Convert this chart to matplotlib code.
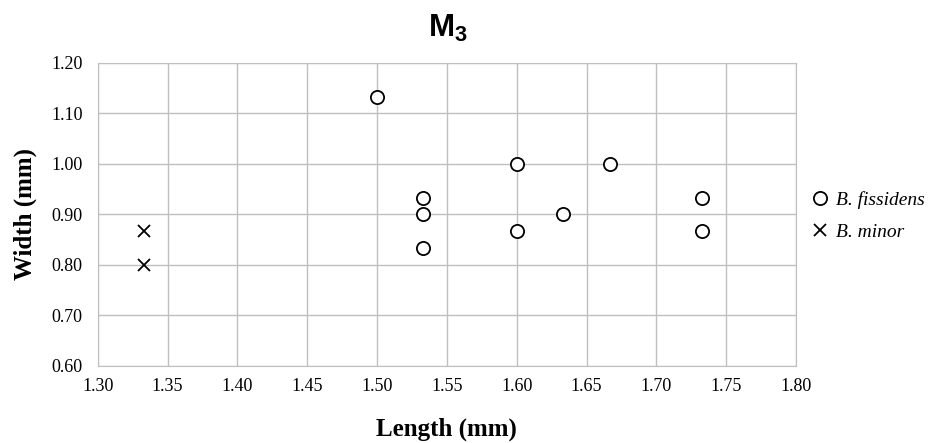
import matplotlib
matplotlib.use("Agg")
import matplotlib.pyplot as plt

# B. fissidens
fiss_len = [1.500, 1.533, 1.533, 1.533, 1.600, 1.600, 1.633, 1.667, 1.733, 1.733]
fiss_wid = [1.133, 0.933, 0.900, 0.833, 1.000, 0.867, 0.900, 1.000, 0.933, 0.867]
# B. minor
minor_len = [1.333, 1.333]
minor_wid = [0.867, 0.800]

x_ticks = [1.30, 1.35, 1.40, 1.45, 1.50, 1.55, 1.60, 1.65, 1.70, 1.75, 1.80]
y_ticks = [0.60, 0.70, 0.80, 0.90, 1.00, 1.10, 1.20]

plt.rcParams['font.family'] = 'Liberation Serif'

fig = plt.figure(figsize=(9.31, 4.43), dpi=100)
ax = fig.add_axes([0.105, 0.174, 0.750, 0.684])

ax.plot(fiss_len, fiss_wid, 'o', ms=9.5, mfc='white', mec='black', mew=1.3,
        label='B. fissidens', zorder=3, clip_on=False)
ax.plot(minor_len, minor_wid, 'x', ms=8.5, mec='black', mew=1.3,
        label='B. minor', zorder=3, clip_on=False)

ax.set_xlim(1.30, 1.80)
ax.set_ylim(0.60, 1.20)
ax.set_xticks(x_ticks)
ax.set_yticks(y_ticks)
ax.set_xticklabels([f'{v:.2f}' for v in x_ticks])
ax.set_yticklabels([f'{v:.2f}' for v in y_ticks])
ax.tick_params(length=0, labelsize=13)
ax.tick_params(axis='x', pad=9)
ax.tick_params(axis='y', pad=11)

ax.grid(True, color='#bfbfbf', lw=1)
ax.set_axisbelow(True)
for s in ax.spines.values():
    s.set_color('#bfbfbf')

ax.set_xlabel('Length (mm)', fontsize=18, fontweight='bold', labelpad=16)
ax.set_ylabel('Width (mm)', fontsize=18, fontweight='bold', labelpad=10)

# title with subscript
fig.text(0.481, 0.936, r'M$_\mathregular{3}$', ha='center', va='center',
         fontsize=22.5, fontweight='bold', family='Liberation Sans')

leg = ax.legend(loc='center left', bbox_to_anchor=(0.988, 0.495), frameon=False,
                prop={'style': 'italic', 'size': 14}, handletextpad=0.1,
                labelspacing=0.75, handlelength=1.5)

fig.savefig('out.png', dpi=100)
